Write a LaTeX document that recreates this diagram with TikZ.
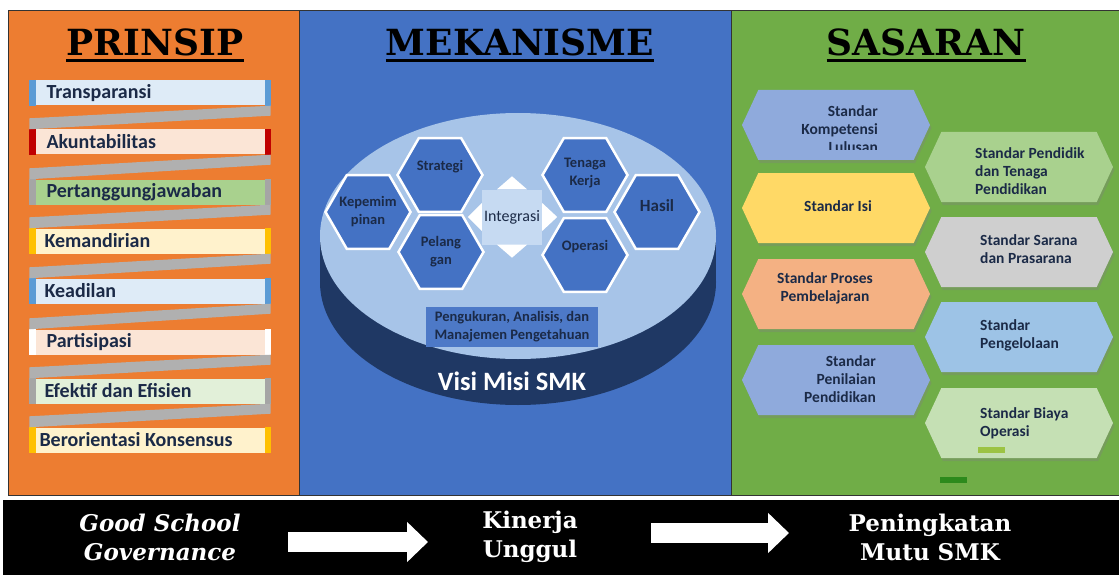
\documentclass[tikz,border=0pt]{standalone}
\usepackage{fontspec}
\setmainfont{Carlito}
\newfontfamily\headfont{DejaVu Serif}
\usetikzlibrary{shapes.geometric, shapes.symbols, shadows, arrows.meta, positioning}

\definecolor{prinOrange}{HTML}{ED7D31}
\definecolor{mekBlue}{HTML}{4472C4}
\definecolor{sasGreen}{HTML}{70AD47}
\definecolor{rimBlue}{HTML}{1F3864}
\definecolor{discBlue}{HTML}{A7C4E8}
\definecolor{integBlue}{HTML}{C6DAF2}
\definecolor{navyText}{HTML}{1B2A47}
\definecolor{ribbonGray}{HTML}{B0B0B0}
\definecolor{paleBlue}{HTML}{DEEBF7}
\definecolor{palePeach}{HTML}{FBE5D6}
\definecolor{paleYellow}{HTML}{FFF2CC}
\definecolor{paleGreen}{HTML}{E2F0D9}
\definecolor{midGreen}{HTML}{A9D18E}
\definecolor{tabBlue}{HTML}{5B9BD5}
\definecolor{tabRed}{HTML}{C00000}
\definecolor{tabGold}{HTML}{FFC000}
\definecolor{tabGray}{HTML}{A5A5A5}
\definecolor{stdBlue}{HTML}{8FAADC}
\definecolor{stdYellow}{HTML}{FFD966}
\definecolor{stdPeach}{HTML}{F4B183}
\definecolor{stdGray}{HTML}{CFCFCF}
\definecolor{stdSky}{HTML}{9DC3E6}
\definecolor{stdMint}{HTML}{C5E0B4}

\tikzset{
  panel/.style={draw=black!80, line width=1pt},
  head title/.style={
    font=\headfont\bfseries\fontsize{36}{36}\selectfont,
    inner sep=0pt,
  },
  head rule/.style={line width=3pt},
  prin bar/.style={minimum width=241pt, minimum height=25pt, inner sep=0pt},
  prin text/.style={
    anchor=west,
    inner sep=0pt,
    text=navyText,
    font=\bfseries\fontsize{20}{20}\selectfont,
  },
  hex/.style={
    regular polygon,
    regular polygon sides=6,
    minimum size=85pt,
    inner sep=0pt,
    fill=mekBlue,
    draw=white,
    line width=2.5pt,
  },
  hex text/.style={
    align=center,
    inner sep=0pt,
    text=navyText,
    font=\bfseries\fontsize{14.5}{18}\selectfont,
  },
  std box/.style={
    signal,
    signal to=east and west,
    signal pointer angle=130,
    minimum width=188pt,
    minimum height=70pt,
    inner sep=0pt,
    drop shadow={shadow xshift=1.5pt, shadow yshift=-3pt, opacity=0.35},
  },
  std text/.style={
    inner sep=0pt,
    text=navyText,
    font=\bfseries\fontsize{15.5}{18}\selectfont,
  },
  foot text/.style={
    align=center,
    text=white,
    font=\headfont\bfseries\fontsize{23}{29}\selectfont,
  },
  foot arrow/.style={
    draw=white,
    line width=20pt,
    -{Triangle[length=21pt, width=39pt]},
  },
}

\newcommand{\bartabs}[2]{%
  \fill[#2] (#1.north west) rectangle ([xshift=7pt]#1.south west);
  \fill[#2] ([xshift=-6pt]#1.north east) rectangle (#1.south east);
}
\newcommand{\ribbon}[2]{%
  \fill[ribbonGray] (#1.south east) -- ++(0,10) -- (#2.north west) -- ++(0,-11) -- cycle;
}

\begin{document}
\begin{tikzpicture}[x=1pt, y=-1pt]
  \useasboundingbox (0,0) rectangle (1119,575);
  \fill[white] (0,0) rectangle (1119,575);

  % three columns
  \fill[prinOrange] (8,11) rectangle (299,495);
  \fill[mekBlue]    (299,11) rectangle (731,495);
  \fill[sasGreen]   (731,11) rectangle (1119,495);
  \draw[panel] (8,11) rectangle (299,495);
  \draw[panel] (299,11) rectangle (731,495);
  \draw[panel] (731,11) -- (1119,11);
  \draw[panel] (731,495) -- (1119,495);

  \node[head title] (prinsip) at (155,42) {PRINSIP};
  \node[head title] (mekanisme) at (520,42) {MEKANISME};
  \node[head title] (sasaran) at (926,42) {SASARAN};
  \draw[head rule] ([yshift=-5pt]prinsip.base west) -- ([yshift=-5pt]prinsip.base east);
  \draw[head rule] ([yshift=-5pt]mekanisme.base west) -- ([yshift=-5pt]mekanisme.base east);
  \draw[head rule] ([yshift=-5pt]sasaran.base west) -- ([yshift=-5pt]sasaran.base east);

  % principles
  \node[prin bar, fill=paleBlue]   (transp)  at (150,93)  {};
  \node[prin bar, fill=palePeach]  (akunt)   at (150,142) {};
  \node[prin bar, fill=midGreen]   (tanggung) at (150,192) {};
  \node[prin bar, fill=paleYellow] (mandiri) at (150,241) {};
  \node[prin bar, fill=paleBlue]   (adil)    at (150,291) {};
  \node[prin bar, fill=palePeach]  (partisi) at (150,342) {};
  \node[prin bar, fill=paleGreen]  (efektif) at (150,391) {};
  \node[prin bar, fill=paleYellow] (konsen)  at (150,440) {};

  \bartabs{transp}{tabBlue}
  \bartabs{akunt}{tabRed}
  \bartabs{tanggung}{tabGray}
  \bartabs{mandiri}{tabGold}
  \bartabs{adil}{tabBlue}
  \bartabs{partisi}{white}
  \bartabs{efektif}{tabGray}
  \bartabs{konsen}{tabGold}

  \ribbon{transp}{akunt}
  \ribbon{akunt}{tanggung}
  \ribbon{tanggung}{mandiri}
  \ribbon{mandiri}{adil}
  \ribbon{adil}{partisi}
  \ribbon{partisi}{efektif}
  \ribbon{efektif}{konsen}

  \node[prin text] (t-transp)  at ([xshift=17pt]transp.west)  {Transparansi};
  \node[prin text] (t-akunt)   at ([xshift=17pt]akunt.west)   {Akuntabilitas};
  \node[prin text] (t-tanggung) at ([xshift=17pt]tanggung.west) {Pertanggungjawaban};
  \node[prin text] (t-mandiri) at ([xshift=15pt]mandiri.west) {Kemandirian};
  \node[prin text] (t-adil)    at ([xshift=15pt]adil.west)    {Keadilan};
  \node[prin text] (t-partisi) at ([xshift=17pt]partisi.west) {Partisipasi};
  \node[prin text] (t-efektif) at ([xshift=15pt]efektif.west) {Efektif dan Efisien};
  \node[prin text] (t-konsen)  at ([xshift=10pt]konsen.west)  {Berorientasi Konsensus};

  % mechanism disc
  \fill[rimBlue] (518,282) ellipse [x radius=198, y radius=123];
  \fill[rimBlue] (320,236) rectangle (716,282);
  \fill[discBlue] (518,236) ellipse [x radius=198, y radius=123];

  \node[hex, label={[hex text]center:Kepemim\\pinan}]            (lead)   at (368,212) {};
  \node[hex, label={[hex text, yshift=8pt]center:Strategi}]       (strat)  at (440,175) {};
  \node[hex, label={[hex text]center:Pelang\\gan}]                (pelang) at (441,252) {};
  \node[hex, label={[hex text, yshift=2pt]center:Tenaga\\Kerja}]  (tenaga) at (585,175) {};
  \node[hex, label={[hex text, yshift=8pt]center:Operasi}]        (ops)    at (585,255) {};
  \node[hex, label={[hex text, yshift=6pt, font=\bfseries\fontsize{17}{18}\selectfont]center:Hasil}] (hasil) at (657,212) {};

  \node[fill=integBlue, minimum width=60pt, minimum height=55pt, inner sep=0pt,
        text=navyText, font=\fontsize{16}{16}\selectfont] (integ) at (512,217) {Integrasi};
  \fill[white] ([xshift=-15pt]integ.north) -- ([yshift=13pt]integ.north) -- ([xshift=15pt]integ.north) -- cycle;
  \fill[white] ([xshift=-15pt]integ.south) -- ([yshift=-13pt]integ.south) -- ([xshift=15pt]integ.south) -- cycle;
  \fill[white] ([yshift=14pt]integ.west) -- ([xshift=-14pt]integ.west) -- ([yshift=-14pt]integ.west) -- cycle;
  \fill[white] ([yshift=14pt]integ.east) -- ([xshift=15pt]integ.east) -- ([yshift=-14pt]integ.east) -- cycle;

  \node[fill=mekBlue!95!white, minimum width=172pt, minimum height=40pt, inner sep=0pt,
        align=center, text=navyText, font=\bfseries\fontsize{14.5}{18}\selectfont]
        (measure) at (512,327) {Pengukuran, Analisis, dan\\Manajemen Pengetahuan};
  \node[text=white, font=\bfseries\fontsize{26.5}{26}\selectfont] (visi) at (512,381) {Visi Misi SMK};

  % standards
  \node[std box, fill=stdBlue]   (lulusan)  at (836,125)  {};
  \node[std box, fill=stdYellow] (isi)      at (836,208)  {};
  \node[std box, fill=stdPeach]  (proses)   at (836,294)  {};
  \node[std box, fill=stdBlue]   (nilai)    at (836,380)  {};
  \node[std box, fill=midGreen]  (pendidik) at (1019,167) {};
  \node[std box, fill=stdGray]   (sarana)   at (1019,252) {};
  \node[std box, fill=stdSky]    (kelola)   at (1019,337) {};
  \node[std box, fill=stdMint]   (biaya)    at (1019,423) {};

  \begin{scope}
    \clip (742,90) rectangle (930,150);
    \node[std text, align=right, anchor=north east] (t-lulusan) at (878,105) {Standar\\Kompetensi\\Lulusan};
  \end{scope}
  \node[std text] (t-isi) at (838,206) {Standar Isi};
  \node[std text, align=center] (t-proses) at (825,288) {Standar Proses\\Pembelajaran};
  \node[std text, align=right, anchor=east] (t-nilai) at (876,379) {Standar\\Penilaian\\Pendidikan};
  \node[std text, align=left, anchor=west] (t-pendidik) at (975,171) {Standar Pendidik\\dan Tenaga\\Pendidikan};
  \node[std text, align=left, anchor=west] (t-sarana) at (980,249) {Standar Sarana\\dan Prasarana};
  \node[std text, align=left, anchor=west] (t-kelola) at (980,335) {Standar\\Pengelolaan};
  \node[std text, align=left, anchor=west] (t-biaya) at (980,423) {Standar Biaya\\Operasi};
  \fill[yellow!60!green!85!black!90] (978,447) rectangle (1005,453);
  \fill[green!45!black!60!sasGreen] (940,477) rectangle (967,483);

  % outcome band
  \fill[black] (3,500) rectangle (1119,575);
  \node[foot text, font=\headfont\bfseries\itshape\fontsize{23}{29}\selectfont]
        (governance) at (160,537) {Good School\\Governance};
  \node[foot text] (kinerja) at (530,537) {Kinerja\\Unggul};
  \node[foot text] (mutu) at (930,537) {Peningkatan\\Mutu SMK};
  \coordinate (arrow1 start) at (288,542);
  \coordinate (arrow1 end) at (428,542);
  \coordinate (arrow2 start) at (651,533);
  \coordinate (arrow2 end) at (789,533);
  \draw[foot arrow] (arrow1 start) -- (arrow1 end);
  \draw[foot arrow] (arrow2 start) -- (arrow2 end);
\end{tikzpicture}
\end{document}
